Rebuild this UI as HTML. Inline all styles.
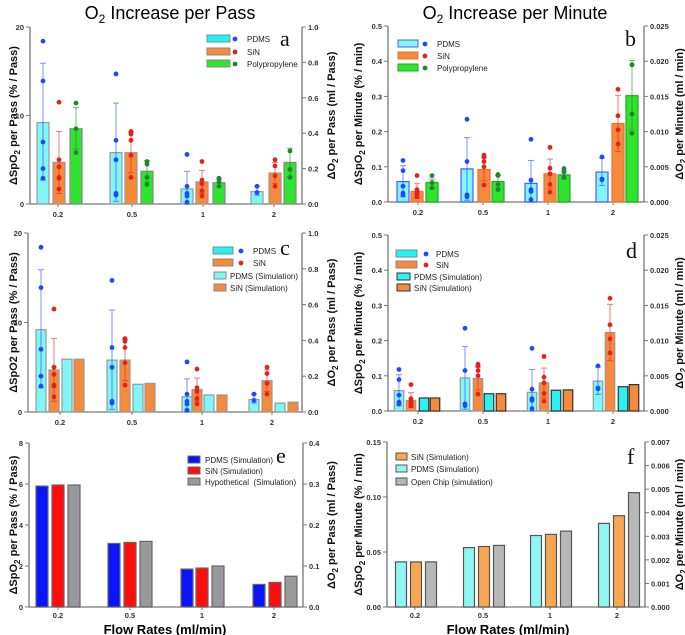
<!DOCTYPE html>
<html><head><meta charset="utf-8"><style>
body{margin:0;background:#fff}
svg{display:block;font-family:"Liberation Sans",sans-serif}
.t{font-size:7.5px;font-weight:bold;fill:#333}
.lg{font-size:8px;fill:#222}
.lab{font-size:11px;font-weight:bold;fill:#111}
.let{font-family:"Liberation Serif",serif;font-size:22px;fill:#111}
</style></head><body>
<svg id="s" width="685" height="635" viewBox="0 0 685 635" xmlns="http://www.w3.org/2000/svg">
<text x="170" y="19" text-anchor="middle" font-size="18">O<tspan font-size="12" dy="4">2</tspan><tspan dy="-4"> Increase per Pass</tspan></text>
<text x="515" y="19" text-anchor="middle" font-size="18">O<tspan font-size="12" dy="4">2</tspan><tspan dy="-4"> Increase per Minute</tspan></text>
<text x="165" y="634" text-anchor="middle" font-size="13" font-weight="bold">Flow Rates (ml/min)</text>
<text x="508" y="634" text-anchor="middle" font-size="13" font-weight="bold">Flow Rates (ml/min)</text>
</svg>
<script>
const S=document.getElementById('s');let h='';
const CY='#80f6f6',OR='#f68a3c',GR='#2fe42f',BL='#1f48ff',RD='#e8201a',DG='#1c8a2c';
function P(o){
 const {L,R,T,B,max}=o;const y=v=>B-(v/max)*(B-T);
 h+=`<line x1="${L}" y1="${T}" x2="${L}" y2="${B}" stroke="#777" stroke-width="1.3"/><line x1="${R}" y1="${T}" x2="${R}" y2="${B}" stroke="#777" stroke-width="1.3"/><line x1="${L}" y1="${B}" x2="${R}" y2="${B}" stroke="#777" stroke-width="1.3"/>`;
 o.lt.forEach(t=>{const yy=y(t[0]);h+=`<line x1="${L-4}" y1="${yy}" x2="${L}" y2="${yy}" stroke="#777"/><text class="t" x="${L-6}" y="${yy+3}" text-anchor="end">${t[1]}</text>`});
 o.rt.forEach((t,i)=>{const yy=B-i*(B-T)/(o.rt.length-1);h+=`<line x1="${R}" y1="${yy}" x2="${R+4}" y2="${yy}" stroke="#777"/><text class="t" x="${R+6}" y="${yy+3}">${t}</text>`});
 o.cats.forEach((c,i)=>{h+=`<line x1="${c}" y1="${B}" x2="${c}" y2="${B+3}" stroke="#777"/><text class="t" x="${c}" y="${B+(o.tk||13)}" text-anchor="middle">${['0.2','0.5','1','2'][i]}</text>`});
 const my=(T+B)/2;
 h+=`<text class="lab" transform="translate(${o.ll},${my}) rotate(-90)" text-anchor="middle">${o.ltxt}</text>`;
 h+=`<text class="lab" transform="translate(${o.rl},${my}) rotate(-90)" text-anchor="middle">${o.rtxt}</text>`;
 o.series.forEach(s=>{
  s.x.forEach((cx,i)=>{const v=s.v[i];const w=o.w;
   h+=`<rect x="${cx-w/2}" y="${y(v)}" width="${w}" height="${B-y(v)}" fill="${s.f}" stroke="${s.s}" stroke-width="1.2"/>`;
   if(s.e){const [a,b]=s.e[i];h+=`<g stroke="${s.ec}" stroke-width="1" opacity="0.6"><line x1="${cx}" y1="${y(a)}" x2="${cx}" y2="${y(b)}"/><line x1="${cx-3}" y1="${y(a)}" x2="${cx+3}" y2="${y(a)}"/><line x1="${cx-3}" y1="${y(b)}" x2="${cx+3}" y2="${y(b)}"/></g>`;}
   if(s.d){s.d[i].forEach(p=>{h+=`<circle cx="${cx}" cy="${y(p)}" r="2.4" fill="${s.dc}"/>`})}
  })});
 o.leg.forEach(l=>{
  h+=`<rect x="${l[0]}" y="${l[1]-4}" width="${l[2]}" height="7" fill="${l[3]}" stroke="${l[4]}"/>`;
  if(l[5])h+=`<circle cx="${l[5]}" cy="${l[1]}" r="2.4" fill="${l[6]}"/>`;
  h+=`<text class="lg" x="${l[7]}" y="${l[1]+3}">${l[8]}</text>`;});
 h+=`<text class="let" x="${o.lx}" y="${o.ly}">${o.let}</text>`;
}
const LA='ΔSpO<tspan font-size="8" dy="3">2</tspan><tspan dy="-3"> per Pass (% / Pass)</tspan>';
const LC='ΔSpO2 per Pass (% / Pass)';
const RA='ΔO<tspan font-size="8" dy="3">2</tspan><tspan dy="-3"> per Pass (ml / Pass)</tspan>';
const LB='ΔSpO<tspan font-size="8" dy="3">2</tspan><tspan dy="-3"> per Minute (% / min)</tspan>';
const RB='ΔO<tspan font-size="8" dy="3">2</tspan><tspan dy="-3"> per Minute (ml / min)</tspan>';
const pd={v:[9.2,5.8,1.7,1.4],e:[[2.7,15.9],[0.3,11.4],[0,3.7],[1,2]],d:[[18.4,13.9,7,4,2.9],[14.7,7.2,5,1.2,1],[5.6,2,1.2,0.9,0.2],[2,1.3]]};
const sn={v:[4.7,5.8,2.5,3.5],e:[[1.2,8.2],[3.5,8.1],[1.2,3.8],[2.3,4.7]],d:[[11.5,5,4.2,3,2.9,1.7],[8.2,7.9,7.2,5.5,3],[4.8,2.7,2.3,1.5,0.9],[5,4.3,3.2,2]]};
P({L:30,R:302,T:27,B:204,max:20,w:12,lt:[[0,'0'],[10,'10'],[20,'20']],rt:['0.0','0.2','0.4','0.6','0.8','1.0'],cats:[58,132,203,274],ll:17,rl:335,ltxt:LA,rtxt:RA,
series:[{x:[43,116,187,257],f:CY,s:'#999',ec:BL,dc:BL,...pd},{x:[59,131,202,275],f:OR,s:'#999',ec:RD,dc:RD,...sn},
{x:[76,147,219,290],f:GR,s:'#888',ec:DG,dc:DG,v:[8.5,3.7,2.4,4.7],e:[[6.2,10.9],[2.5,4.9],[2,2.8],[3.1,6.3]],d:[[11.4,8.5,5.8],[4.8,4.5,3,2.2],[2.9,2.5,2],[6,3.9,3]]}],
leg:[[207,39,23,'#1ff4f4','#888',235,BL,247,'PDMS'],[207,52,23,OR,'#888',235,RD,247,'SiN'],[207,64,23,GR,'#888',235,DG,247,'Polypropylene']],lx:280,ly:46,let:'a'});
P({L:28,R:302,T:233,B:412,max:20,w:10,lt:[[0,'0'],[10,'10'],[20,'20']],rt:['0.0','0.2','0.4','0.6','0.8','1.0'],cats:[60,132,202,272],ll:17,rl:335,ltxt:LC,rtxt:RA,
series:[{x:[41,112,187,254],f:CY,s:'#999',ec:BL,dc:BL,...pd},{x:[54,125,197,267],f:OR,s:'#999',ec:RD,dc:RD,...sn},
{x:[67,138,209,280],f:CY,s:'#999',v:[5.9,3.1,1.9,1.0]},{x:[79,150,222,293],f:OR,s:'#999',v:[5.9,3.2,1.9,1.1]}],
leg:[[213,251,20,'#1ff4f4','#888',241,BL,253,'PDMS'],[213,263,20,OR,'#888',241,RD,253,'SiN'],[214,276,12,CY,'#888',0,0,230,'PDMS (Simulation)'],[214,288,12,OR,'#888',0,0,230,'SiN (Simulation)']],lx:280,ly:255,let:'c'});
const pb={v:[.058,.094,.053,.085],e:[[.015,.103],[.005,.183],[0,.118],[.047,.125]],d:[[.118,.089,.045,.025,.02],[.235,.115,.02,.015],[.178,.062,.035,.03,.007],[.128,.065,.063]]};
const sb={v:[.03,.092,.08,.223],e:[[.01,.052],[.06,.125],[.038,.122],[.143,.303]],d:[[.075,.035,.03,.025,.02,.015],[.133,.128,.115,.1,.048],[.155,.096,.08,.05,.028],[.32,.245,.205,.165]]};
const tb=[[0,'0.0'],[.1,'0.1'],[.2,'0.2'],[.3,'0.3'],[.4,'0.4'],[.5,'0.5']];
P({L:388,R:644,T:26,B:202,max:.5,w:12,lt:tb,rt:['0.000','0.005','0.010','0.015','0.020','0.025'],cats:[418,483,548,613],ll:362,rl:683,ltxt:LB,rtxt:RB,
series:[{x:[403,467,531,602],f:CY,s:'#4a5cff',ec:BL,dc:BL,...pb},{x:[417,484,550,618],f:OR,s:'#f07030',ec:RD,dc:RD,...sb},
{x:[432,498,564,632],f:GR,s:'#2a2',ec:DG,dc:DG,v:[.055,.058,.077,.302],e:[[.04,.065],[.04,.075],[.065,.09],[.205,.402]],d:[[.075,.055,.04,.055],[.078,.075,.05,.035],[.095,.085,.07,.07],[.39,.39,.25,.195]]}],
leg:[[398,44,20,CY,'#4a5cff',425,BL,437,'PDMS'],[398,56,20,OR,'#f07030',425,RD,437,'SiN'],[398,68,20,GR,'#2a2',425,DG,437,'Polypropylene']],lx:625,ly:46,let:'b'});
P({L:388,R:644,T:235,B:411,max:.5,w:9.5,lt:tb,rt:['0.000','0.005','0.010','0.015','0.020','0.025'],cats:[418,483,548,613],ll:362,rl:683,ltxt:LB,rtxt:RB,
series:[{x:[399,465,532,598],f:CY,s:'#999',ec:BL,dc:BL,...pb},{x:[411,478,544,610],f:OR,s:'#999',ec:RD,dc:RD,...sb},
{x:[424,489,556,623],f:'#2ff0f0',s:'#333',v:[.037,.049,.059,.069]},{x:[435,501,568,634],f:OR,s:'#333',v:[.037,.049,.06,.075]}],
leg:[[396,254,21,'#1ff4f4','#888',426,BL,436,'PDMS'],[396,265,21,OR,'#888',426,RD,436,'SiN'],[397,277,13,'#2ff0f0','#333',0,0,414,'PDMS (Simulation)'],[397,288,13,OR,'#333',0,0,414,'SiN (Simulation)']],lx:626,ly:258,let:'d'});
P({L:29,R:303,T:443,B:607,max:8,w:12,tk:11,lt:[[0,'0'],[2,'2'],[4,'4'],[6,'6'],[8,'8']],rt:['0.0','0.1','0.2','0.3','0.4'],cats:[58,130,202,274],ll:17,rl:335,ltxt:LA,rtxt:RA,
series:[{x:[42,114,187,259],f:'#0a14ff',s:'#666',v:[5.9,3.1,1.85,1.1]},{x:[58,130,202,275],f:'#ff0d0d',s:'#666',v:[5.95,3.15,1.9,1.2]},{x:[74,146,218,291],f:'#9a9a9e',s:'#666',v:[5.95,3.2,2.0,1.5]}],
leg:[[188,460,12,'#0a14ff','#666',0,0,205,'PDMS (Simulation)'],[188,471,12,'#ff0d0d','#666',0,0,205,'SiN (Simulation)'],[188,482,12,'#9a9a9e','#666',0,0,205,'Hypothetical&#160; (Simulation)']],lx:276,ly:463,let:'e'});
P({L:387,R:645,T:442,B:607,max:.15,w:11,tk:11,lt:[[0,'0.00'],[.05,'0.05'],[.1,'0.10'],[.15,'0.15']],rt:['0.000','0.001','0.002','0.003','0.004','0.005','0.006','0.007'],cats:[415,483,550,617],ll:362,rl:683,ltxt:LB,rtxt:RB,
series:[{x:[401,469,536,604],f:'#8ff7f3',s:'#555',v:[.041,.054,.065,.076]},{x:[416,484,551,619],f:'#f9a650',s:'#555',v:[.041,.055,.066,.083]},{x:[431,499,566,634],f:'#b8b8b8',s:'#555',v:[.041,.056,.069,.104]}],
leg:[[396,457,11,'#f9a650','#555',0,0,411,'SiN (Simulation)'],[396,469,11,'#8ff7f3','#555',0,0,411,'PDMS (Simulation)'],[396,482,11,'#b8b8b8','#555',0,0,411,'Open Chip (simulation)']],lx:627,ly:464,let:'f'});
S.insertAdjacentHTML('beforeend',h);
</script>
</body></html>
